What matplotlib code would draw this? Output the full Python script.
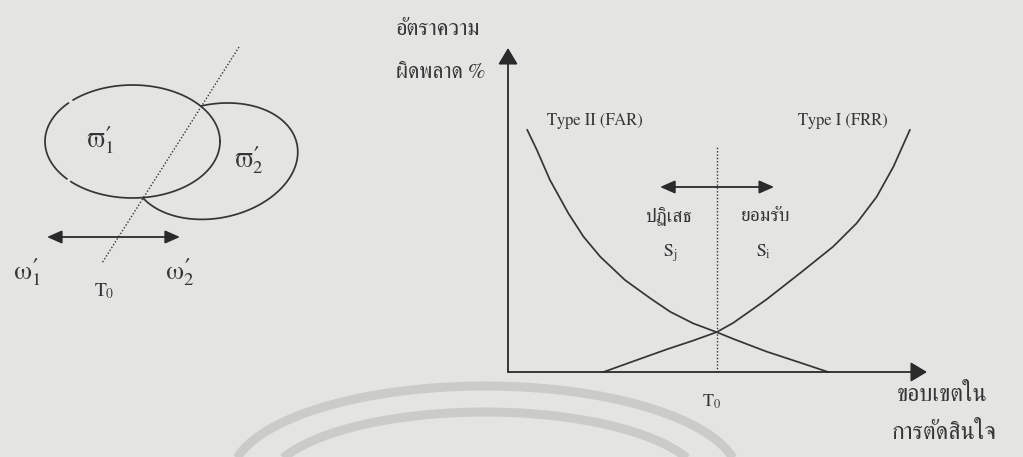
import numpy as np
import matplotlib
matplotlib.use("Agg")
import matplotlib.pyplot as plt
from matplotlib.patches import FancyArrowPatch

# ---------------- data ----------------
# decision threshold (x) vs error rate % (y)
far_x = [0.46, 0.69, 1.00, 1.44, 1.80, 2.20, 2.79, 3.39, 3.87, 4.42, 4.98, 5.38, 6.17, 6.97, 7.64]
far_y = [74.7, 68.5, 59.3, 49.0, 41.8, 35.6, 28.4, 22.8, 18.6, 15.0, 12.3, 10.2, 6.3, 2.9, 0.0]
frr_x = [2.28, 2.99, 3.79, 4.42, 4.98, 5.38, 6.17, 6.97, 7.76, 8.32, 8.80, 9.20, 9.59]
frr_y = [0.0, 3.3, 7.0, 9.7, 12.3, 15.2, 22.4, 30.5, 38.7, 45.9, 54.1, 63.4, 74.7]
t0 = 4.98            # threshold T0
t0_top = 69.4        # top of the dotted T0 line
arrow_y = 57.1       # reject/accept double arrow height
arrow_x = [3.63, 6.35]
x_range = [0, 10]
y_range = [0, 100]

far_label = "Type II (FAR)"
frr_label = "Type I (FRR)"
ylabel_lines = ["อัตราความ", "ผิดพลาด %"]
xlabel_lines = ["ขอบเขตใน", "การตัดสินใจ"]
reject_label = "ปฏิเสธ"
accept_label = "ยอมรับ"

# left diagram (pixel units of the figure)
ell1 = dict(cx=132.5, cy=141.5, a=87.5, b=56.5)
ell2_pts = [(143, 198), (201, 106), (225, 103), (297, 160), (220, 218)]
left_dotted = [(239, 47), (102, 263)]

# ---------------- style ----------------
BG = "#e4e4e2"
INK = "#353535"
FONT = "FreeSerif"
plt.rcParams["font.family"] = [FONT, "DejaVu Sans"]
plt.rcParams["mathtext.fontset"] = "custom"
plt.rcParams["mathtext.rm"] = FONT
plt.rcParams["mathtext.it"] = FONT
plt.rcParams["mathtext.bf"] = FONT + ":bold"

W, H = 1023, 457
fig = plt.figure(figsize=(W / 100, H / 100), dpi=100, facecolor=BG)

# overlay axes in pixel coordinates
ov = fig.add_axes([0, 0, 1, 1])
ov.set_xlim(0, W)
ov.set_ylim(H, 0)
ov.axis("off")
ov.set_facecolor("none")

# watermark arcs
for (cx, cy, rx, ry) in [(485, 478, 254, 92), (485, 486, 218, 74)]:
    t = np.linspace(0, np.pi, 200)
    ov.plot(cx + rx * np.cos(t), cy - ry * np.sin(t), color="#cbcbc9", lw=6.5,
            solid_capstyle="butt", zorder=0)

# ellipse 1 (with two small scan gaps on the left)
t = np.linspace(0, 2 * np.pi, 720)
e1x = ell1["cx"] + ell1["a"] * np.cos(t)
e1y = ell1["cy"] + ell1["b"] * np.sin(t)
deg = np.degrees(t)
gap = ((deg > 223) & (deg < 227)) | ((deg > 135) & (deg < 138.5))
e1x = np.where(gap, np.nan, e1x)
ov.plot(e1x, e1y, color=INK, lw=1.25)

# ellipse 2 : conic through the five read points, drawn outside ellipse 1 only
P = np.array(ell2_pts, float)
ref = P.mean(axis=0)
Q = P - ref
Amat = np.column_stack([Q[:, 0] ** 2, Q[:, 0] * Q[:, 1], Q[:, 1] ** 2, Q[:, 0], Q[:, 1]])
A, B, C, D, E = np.linalg.solve(Amat, np.ones(5))
M = np.array([[A, B / 2], [B / 2, C]])
g = np.array([D, E])
c = -np.linalg.solve(M, g) / 2
k = 1 + c @ M @ c
lam, V = np.linalg.eigh(M)
u = V @ np.vstack([np.sqrt(k / lam[0]) * np.cos(t), np.sqrt(k / lam[1]) * np.sin(t)])
e2x = u[0] + c[0] + ref[0]
e2y = u[1] + c[1] + ref[1]
inside = ((e2x - ell1["cx"]) / ell1["a"]) ** 2 + ((e2y - ell1["cy"]) / ell1["b"]) ** 2 < 1
e2x = np.where(inside, np.nan, e2x)
ov.plot(e2x, e2y, color=INK, lw=1.25)

# left dotted line
ov.plot([p[0] for p in left_dotted], [p[1] for p in left_dotted], color=INK, lw=1.0,
        linestyle=(0, (1, 1.4)))

ARR = "<|-|>,head_length=0.75,head_width=0.33"

def dbl_arrow(ax, p0, p1):
    ax.add_patch(FancyArrowPatch(p0, p1, arrowstyle=ARR, mutation_scale=12,
                                 color="#2a2a2a", lw=1.3, shrinkA=0, shrinkB=0))

dbl_arrow(ov, (47, 237), (180, 237))

# left labels
ov.text(100, 140, r"$\varpi^{\prime}_{1}$", fontsize=19, ha="center", va="center", color=INK)
ov.text(248, 160, r"$\varpi^{\prime}_{2}$", fontsize=19, ha="center", va="center", color=INK)
ov.text(27, 272, r"$\omega^{\prime}_{1}$", fontsize=19, ha="center", va="center", color=INK)
ov.text(180, 272, r"$\omega^{\prime}_{2}$", fontsize=19, ha="center", va="center", color=INK)
ov.text(104, 291, r"$\mathrm{T}_0$", fontsize=14, ha="center", va="center", color=INK)

# ---------------- right chart ----------------
x0, y0, x1, y1 = 508, 372, 927, 48
ax = fig.add_axes([x0 / W, (H - y0) / H, (x1 - x0) / W, (y0 - y1) / H])
ax.set_xlim(*x_range)
ax.set_ylim(*y_range)
ax.set_facecolor("none")
for s in ax.spines.values():
    s.set_visible(False)
ax.set_xticks([])
ax.set_yticks([])

ax.plot(far_x, far_y, color=INK, lw=1.25, clip_on=False)
ax.plot(frr_x, frr_y, color=INK, lw=1.25, clip_on=False)
ax.plot([t0, t0], [0, t0_top], color=INK, lw=1.0, linestyle=(0, (1, 1.4)))

# axes with arrow heads
ax_arrow = dict(arrowstyle="-|>,head_length=0.5,head_width=0.3", mutation_scale=20,
                color="#2a2a2a", lw=1.3, shrinkA=0, shrinkB=0)
ax.annotate("", xy=(1, 0), xytext=(0, 0), xycoords="axes fraction", arrowprops=ax_arrow)
ax.annotate("", xy=(0, 1), xytext=(0, 0), xycoords="axes fraction", arrowprops=ax_arrow)

# reject / accept double arrow
dbl_arrow(ax, (arrow_x[0], arrow_y), (arrow_x[1], arrow_y))

# right labels (pixel positions)
ov.text(595, 121, far_label, fontsize=12, ha="center", va="center", color=INK)
ov.text(843, 121, frr_label, fontsize=12, ha="center", va="center", color=INK)
ov.text(668, 216, reject_label, fontsize=14, ha="center", va="center", color=INK)
ov.text(765, 216, accept_label, fontsize=14, ha="center", va="center", color=INK)
ov.text(670, 253, r"$\mathrm{S}_j$", fontsize=13, ha="center", va="center", color=INK)
ov.text(763, 252, r"$\mathrm{S}_i$", fontsize=13, ha="center", va="center", color=INK)
ov.text(711, 402, r"$\mathrm{T}_0$", fontsize=13, ha="center", va="center", color=INK)
ov.text(396, 30, ylabel_lines[0], fontsize=16, ha="left", va="center", color=INK)
ov.text(396, 73, ylabel_lines[1], fontsize=15.5, ha="left", va="center", color=INK)
ov.text(897, 395, xlabel_lines[0], fontsize=17, ha="left", va="center", color=INK)
ov.text(892, 433, xlabel_lines[1], fontsize=17, ha="left", va="center", color=INK)

fig.savefig("out.png", dpi=100, facecolor=BG)
